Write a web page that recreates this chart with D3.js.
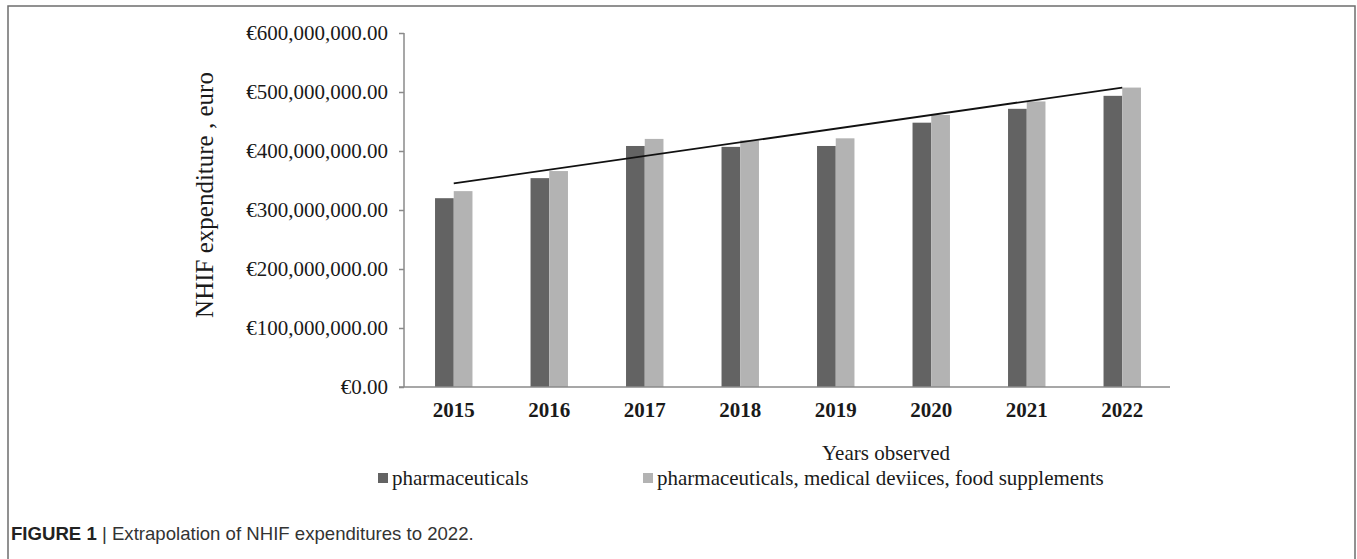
<!DOCTYPE html>
<html>
<head>
<meta charset="utf-8">
<script src="https://cdn.jsdelivr.net/npm/d3@7"></script>
<style>
  body { margin: 0; background: #fff; }
  svg text { font-family: "Liberation Serif", "Times New Roman", serif; fill: #1a1a1a; }
  text.caption { font-family: "Liberation Sans", Arial, sans-serif; }
</style>
</head>
<body>
<svg id="chart" width="1357" height="559"></svg>
<script>
// chart values (euro)
const years = ["2015", "2016", "2017", "2018", "2019", "2020", "2021", "2022"];
const pharmaceuticals = [320e6, 354e6, 408.5e6, 407e6, 408.5e6, 448e6, 471.5e6, 493.5e6];
const pharmaWithDevices = [332e6, 366e6, 420.5e6, 418e6, 421.5e6, 461e6, 484e6, 507.5e6];
const trendYears = ["2015", "2022"];
const trendValues = [345e6, 507.5e6];
const yTicks = [0, 100e6, 200e6, 300e6, 400e6, 500e6, 600e6];
const seriesNames = ["pharmaceuticals", "pharmaceuticals, medical deviices, food supplements"];
const seriesColors = ["#636363", "#b3b3b3"];

class ExpenditureChart {
    constructor(selector) {
        this.svg = d3.select(selector);
        this.plot = { left: 404, right: 1170, top: 33, bottom: 387 };

        // band scale for the year groups, inner band for the two series
        this.xScale = d3.scaleBand()
            .domain(years)
            .range([406, this.plot.right])
            .paddingInner(0.608)
            .paddingOuter(0.304);
        this.xInner = d3.scaleBand()
            .domain([0, 1])
            .range([0, this.xScale.bandwidth()]);
        this.yScale = d3.scaleLinear()
            .domain([0, 600e6])
            .range([this.plot.bottom, this.plot.top]);
    }

    drawFrame() {
        this.svg.append("rect")
            .attr("x", 8).attr("y", 6)
            .attr("width", 1347).attr("height", 620)
            .attr("fill", "none")
            .attr("stroke", "#6e6e6e")
            .attr("stroke-width", 1.5);
    }

    drawBars() {
        const rows = years.map((y, i) => ({ year: y, values: [pharmaceuticals[i], pharmaWithDevices[i]] }));
        const groups = this.svg.append("g").selectAll("g")
            .data(rows)
            .join("g")
            .attr("transform", d => `translate(${this.xScale(d.year)},0)`);

        groups.selectAll("rect")
            .data(d => d.values.map((v, k) => ({ k, v })))
            .join("rect")
            .attr("x", d => this.xInner(d.k))
            .attr("width", this.xInner.bandwidth())
            .attr("y", d => this.yScale(d.v))
            .attr("height", d => this.plot.bottom - this.yScale(d.v))
            .attr("fill", d => seriesColors[d.k]);
    }

    drawAxes() {
        const yAxis = d3.axisLeft(this.yScale)
            .tickValues(yTicks)
            .tickSize(5)
            .tickPadding(11)
            .tickFormat(d => "€" + d3.format(",.2f")(d));

        const gy = this.svg.append("g")
            .attr("transform", `translate(${this.plot.left},0)`)
            .call(yAxis);
        gy.select(".domain").remove();
        gy.selectAll(".tick line").attr("stroke", "#8a8a8a").attr("stroke-width", 1.5);
        gy.selectAll(".tick text")
            .attr("font-size", 21)
            .attr("font-family", "Liberation Serif, serif")
            .attr("fill", "#1a1a1a");

        // axis lines
        this.svg.append("line")
            .attr("x1", this.plot.left).attr("x2", this.plot.left)
            .attr("y1", this.plot.top).attr("y2", this.plot.bottom)
            .attr("stroke", "#8a8a8a").attr("stroke-width", 1.5);
        this.svg.append("line")
            .attr("x1", this.plot.left - 5).attr("x2", this.plot.right)
            .attr("y1", this.plot.bottom).attr("y2", this.plot.bottom)
            .attr("stroke", "#8a8a8a").attr("stroke-width", 1.5);

        // year labels
        this.svg.append("g").selectAll("text")
            .data(years)
            .join("text")
            .attr("x", d => this.xScale(d) + this.xScale.bandwidth() / 2)
            .attr("y", 417)
            .attr("text-anchor", "middle")
            .attr("font-size", 21)
            .attr("font-weight", "bold")
            .text(d => d);

        // titles
        this.svg.append("text")
            .attr("transform", "translate(213,195) rotate(-90)")
            .attr("text-anchor", "middle")
            .attr("font-size", 25)
            .text("NHIF expenditure , euro");

        this.svg.append("text")
            .attr("x", 886).attr("y", 460)
            .attr("text-anchor", "middle")
            .attr("font-size", 21)
            .text("Years observed");
    }

    drawTrend() {
        const line = d3.line()
            .x(d => this.xScale(d.year) + this.xScale.bandwidth() / 2)
            .y(d => this.yScale(d.value));
        this.svg.append("path")
            .datum(trendYears.map((y, i) => ({ year: y, value: trendValues[i] })))
            .attr("d", line)
            .attr("fill", "none")
            .attr("stroke", "#111")
            .attr("stroke-width", 1.8);
    }

    drawLegend() {
        const spots = [378, 643];
        const legend = this.svg.append("g").selectAll("g")
            .data(seriesNames)
            .join("g")
            .attr("transform", (d, i) => `translate(${spots[i]},473)`);
        legend.append("rect")
            .attr("width", 10).attr("height", 10)
            .attr("fill", (d, i) => seriesColors[i]);
        legend.append("text")
            .attr("x", 14).attr("y", 12)
            .attr("font-size", 21)
            .text(d => d);
    }

    drawCaption() {
        const cap = this.svg.append("text")
            .attr("class", "caption")
            .attr("x", 11).attr("y", 540)
            .attr("font-size", 18.6);
        cap.append("tspan").attr("font-weight", "bold").attr("fill", "#222").text("FIGURE 1");
        cap.append("tspan").attr("fill", "#333").text(" | Extrapolation of NHIF expenditures to 2022.");
    }

    render() {
        this.drawFrame();
        this.drawBars();
        this.drawAxes();
        this.drawTrend();
        this.drawLegend();
        this.drawCaption();
    }
}

new ExpenditureChart("#chart").render();
</script>
</body>
</html>
